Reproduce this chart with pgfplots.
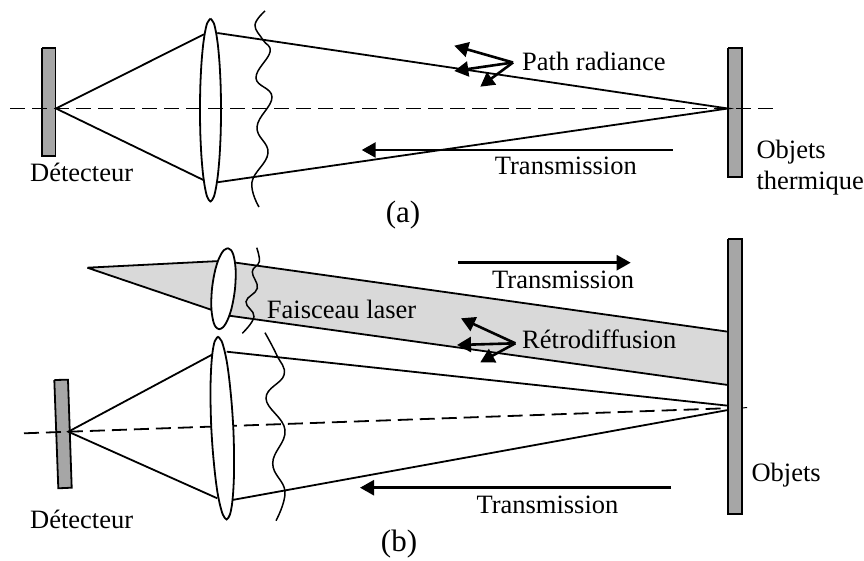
\documentclass[border=0pt]{standalone}
\usepackage{fontspec}
\setmainfont{Liberation Serif}
\usepackage{pgfplots}
\pgfplotsset{compat=1.18}
\usetikzlibrary{arrows.meta}
\definecolor{rectgray}{HTML}{A6A6A6}
\definecolor{beamgray}{HTML}{D9D9D9}
\tikzset{
  myray/.style={black,line width=1.8pt,no markers},
  mywave/.style={black,line width=1.5pt,no markers,smooth,tension=0.7},
  mydash/.style={black,line width=1.8pt,no markers,dash pattern=on 15pt off 7pt},
  myshape/.style={black,line width=1.8pt,no markers,line join=miter},
  myarr/.style={black,line width=2.6pt,no markers,-{Triangle[length=14pt,width=15pt]}},
  mylab/.style={anchor=base west,inner sep=0pt,font=\fontsize{26.5}{30}\selectfont},
  mycap/.style={anchor=base,inner sep=0pt,font=\fontsize{31}{34}\selectfont},
}
\begin{document}
\begin{tikzpicture}
\begin{axis}[
  scale only axis,width=864pt,height=561pt,
  xmin=0,xmax=864,ymin=0,ymax=561,y dir=reverse,
  hide axis,clip=false]
\path (axis cs:0,0) (axis cs:864,561);
% ---------- (a) ----------
\addplot[myshape,fill=rectgray] coordinates {(42,48)(55.5,48)(55.5,156)(42,156)(42,48)};
\addplot[myshape,fill=rectgray] coordinates {(728,48)(742,48)(742,177)(728,177)(728,48)};
\addplot[myray] coordinates {(204,34.3)(56,108.5)(204,180.3)};
\addplot[myray] coordinates {(217.3,33)(728,108.5)(217.3,182.3)};
\addplot[myshape,smooth] coordinates {(210.5,18.5)(213.8,23.1)(216,32.2)(218,46)(219.6,64.3)(220.7,87.1)(221,110)(220.7,132.9)(219.6,155.8)(218,174.1)(216,187.8)(213.8,196.9)(210.5,201.5)(207.2,196.9)(205,187.8)(203,174.1)(201.4,155.8)(200.3,132.9)(200,110)(200.3,87.1)(201.4,64.3)(203,46)(205,32.2)(207.2,23.1)(210.5,18.5)};
\addplot[mydash] coordinates {(10,108.5)(775,108.5)};
\addplot[mywave] coordinates {(265,11)(255,25)(263,40)(270,52)(256,78)(272,97)(257,127)(268,153)(252,182)(259,207)};
\addplot[myarr] coordinates {(672.7,150)(361.7,150)};
\addplot[myarr] coordinates {(513,62.5)(454.3,45.7)};
\addplot[myarr] coordinates {(513,62.5)(454.3,71)};
\addplot[myarr] coordinates {(513,62.5)(480.3,86.7)};
\node[mylab] at (axis cs:30,181.7) {Détecteur};
\node[mylab] at (axis cs:522,70.7) {Path radiance};
\node[mylab] at (axis cs:494.7,175) {Transmission};
\node[mylab] at (axis cs:756.3,159) {Objets};
\node[mylab] at (axis cs:756.3,190) {thermique};
\node[mycap] at (axis cs:403,223) {(a)};
% ---------- (b) ----------
\addplot[myshape,fill=beamgray] coordinates {(87.3,267.7)(220,261)(236,262.7)(728,331.7)(728,385)(229.3,315.7)(212,310)(87.3,267.7)};
\addplot[myshape,fill=rectgray] coordinates {(728,239.3)(742,239.3)(742,514)(728,514)(728,239.3)};
\addplot[myshape,fill=rectgray] coordinates {(54.3,380)(68,379.7)(71.7,487.7)(58.3,488.3)(54.3,380)};
\addplot[myray] coordinates {(213.3,354)(68.3,431.7)(217.3,498.3)};
\addplot[myray] coordinates {(226.7,351.7)(728,405.7)};
\addplot[myray] coordinates {(232.3,500)(728,410)};
\addplot[mydash] coordinates {(24,433.3)(728,408.2)};
\addplot[black,line width=1pt,no markers] coordinates {(742,407.8)(747,407.7)};
\addplot[myshape,fill=white,smooth] coordinates {(227.7,248.2)(231.1,250.2)(233.2,254.3)(234.6,260.3)(235.6,268.5)(235.65,278.6)(235,288.7)(233.55,298.8)(231.4,309)(228.8,317)(226,323.1)(223.1,327.2)(219.3,329.2)(215.9,327.2)(213.8,323.1)(212.4,317)(211.4,309)(211.35,298.8)(212,288.7)(213.45,278.6)(215.6,268.5)(218.2,260.3)(221,254.3)(223.9,250.2)(227.7,248.2)};
\addplot[myshape,fill=white,smooth] coordinates {(218,336.5)(221.6,341.1)(224.4,350.2)(227.2,364)(229.6,382.3)(231.8,405.1)(233.3,428)(234,450.9)(234,473.8)(233.2,492)(231.8,505.8)(229.8,514.9)(226.6,519.5)(223,514.9)(220.2,505.8)(217.4,492)(215,473.8)(212.8,450.9)(211.3,428)(210.6,405.1)(210.6,382.3)(211.4,364)(212.8,350.2)(214.8,341.1)(218,336.5)};
\addplot[mywave] coordinates {(256.7,247.7)(259.3,261.7)(252.3,271.7)(257.3,288.3)(246,301.7)(254,316.7)(242.3,333.3)};
\addplot[mywave] coordinates {(265,332.7)(276.7,355)(284,375)(266,398.3)(285,430)(272.7,463.3)(285,491.7)(276,520.7)};
\addplot[myarr] coordinates {(458,262.7)(630.7,262.7)};
\addplot[myarr] coordinates {(671,487.7)(360,487.7)};
\addplot[myarr] coordinates {(515.3,343.3)(461,318.3)};
\addplot[myarr] coordinates {(515.3,343.3)(457,345)};
\addplot[myarr] coordinates {(515.3,343.3)(480.3,362.3)};
\node[mylab] at (axis cs:266.7,318.3) {Faisceau laser};
\node[mylab] at (axis cs:522,348.3) {Rétrodiffusion};
\node[mylab] at (axis cs:492,288.3) {Transmission};
\node[mylab] at (axis cs:476.3,513.3) {Transmission};
\node[mylab] at (axis cs:751.3,481.7) {Objets};
\node[mylab] at (axis cs:30,528.3) {Détecteur};
\node[mycap] at (axis cs:399,551.7) {(b)};
\end{axis}
\end{tikzpicture}
\end{document}
